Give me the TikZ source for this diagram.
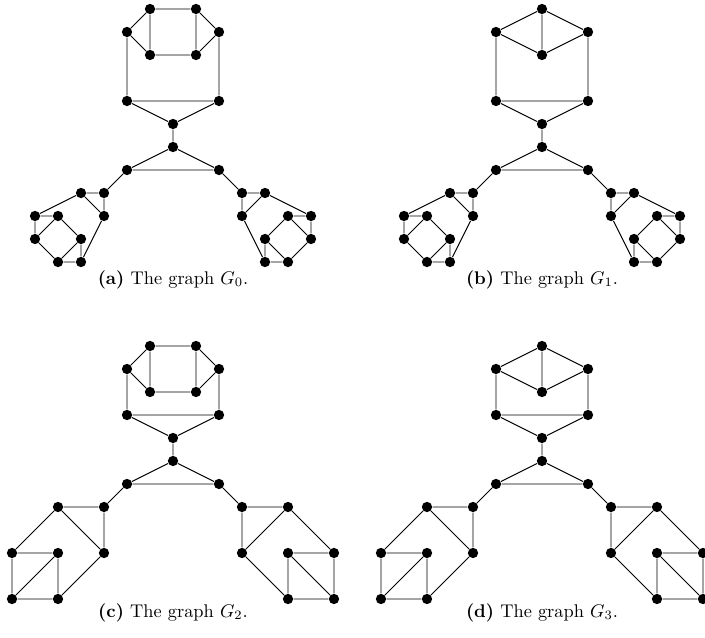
\documentclass[tikz,border=0pt]{standalone}
\usepackage{amsmath}
\usepackage{amssymb}
\usepackage{tikz}

\tikzset{
  vtx/.style={circle, fill=black, inner sep=0pt, minimum size=5.6pt},
  gline/.style={line width=0.5pt}
}

% top part of G0 and G2
\newcommand{\topoct}[1]{
  \node[vtx] (#1a1) at (-1,0) {};
  \node[vtx] (#1a2) at (1,0) {};
  \node[vtx] (#1b1) at (-2,-1) {};
  \node[vtx] (#1b2) at (2,-1) {};
  \node[vtx] (#1c1) at (-1,-2) {};
  \node[vtx] (#1c2) at (1,-2) {};
  \draw[gline] (#1a1) -- (#1a2) (#1c1) -- (#1c2) (#1a1) -- (#1c1) (#1a2) -- (#1c2)
    (#1b1) -- (#1a1) (#1b1) -- (#1c1) (#1b2) -- (#1a2) (#1b2) -- (#1c2);
}
% top part of G1 and G3
\newcommand{\tophex}[1]{
  \node[vtx] (#1a1) at (0,0) {};
  \node[vtx] (#1b1) at (-2,-1) {};
  \node[vtx] (#1b2) at (2,-1) {};
  \node[vtx] (#1c1) at (0,-2) {};
  \draw[gline] (#1a1) -- (#1b1) -- (#1c1) -- (#1b2) -- (#1a1) -- (#1c1);
}
% middle part, #2 = row of the lower pair
\newcommand{\spine}[2]{
  \node[vtx] (#1d1) at (-2,#2) {};
  \node[vtx] (#1d2) at (2,#2) {};
  \node[vtx] (#1e) at (0,#2-1) {};
  \node[vtx] (#1f) at (0,#2-2) {};
  \node[vtx] (#1g1) at (-2,#2-3) {};
  \node[vtx] (#1g2) at (2,#2-3) {};
  \draw[gline] (#1b1) -- (#1d1) -- (#1d2) -- (#1b2) (#1d1) -- (#1e) -- (#1d2)
    (#1e) -- (#1f) -- (#1g1) -- (#1g2) -- (#1f);
}
% small end gadget of G0 and G1
\newcommand{\cupsmall}[2]{
  \node[vtx] (#1p) at (-2,-1) {};
  \node[vtx] (#1q) at (-1,-1) {};
  \node[vtx] (#1r) at (-4,-2) {};
  \node[vtx] (#1s) at (-3,-2) {};
  \node[vtx] (#1t) at (-1,-2) {};
  \node[vtx] (#1u) at (-4,-3) {};
  \node[vtx] (#1v) at (-2,-3) {};
  \node[vtx] (#1w) at (-3,-4) {};
  \node[vtx] (#1x) at (-2,-4) {};
  \draw[gline] (#2) -- (#1q) -- (#1p) -- (#1r) (#1p) -- (#1t) -- (#1q)
    (#1r) -- (#1s) -- (#1u) -- (#1r) (#1s) -- (#1v) -- (#1w) -- (#1u)
    (#1v) -- (#1x) -- (#1w) (#1t) -- (#1x);
}
% large end gadget of G2 and G3
\newcommand{\cupbig}[2]{
  \node[vtx] (#1p) at (-3,-1) {};
  \node[vtx] (#1q) at (-1,-1) {};
  \node[vtx] (#1r) at (-5,-3) {};
  \node[vtx] (#1s) at (-3,-3) {};
  \node[vtx] (#1t) at (-1,-3) {};
  \node[vtx] (#1u) at (-5,-5) {};
  \node[vtx] (#1v) at (-3,-5) {};
  \draw[gline] (#2) -- (#1q) -- (#1p) -- (#1r) (#1p) -- (#1t) -- (#1q)
    (#1r) -- (#1s) -- (#1u) -- (#1r) (#1s) -- (#1v) -- (#1u) (#1t) -- (#1v);
}

\begin{document}
\begin{tikzpicture}[x=0.44cm, y=0.44cm]
  \useasboundingbox (0,0) rectangle (30.652,-27.696);

  % graph G0
  \begin{scope}[shift={(7.522,-0.391)}]
    \topoct{a}
    \spine{a}{-4}
  \end{scope}
  \begin{scope}[shift={(ag1)}]
    \cupsmall{aL}{ag1}
  \end{scope}
  \begin{scope}[shift={(ag2)}, xscale=-1]
    \cupsmall{aR}{ag2}
  \end{scope}
  \node[anchor=base] (capa) at (7.522,-12.35) {\textbf{(a)} The graph $G_0$.};

  % graph G1
  \begin{scope}[shift={(23.565,-0.391)}]
    \tophex{b}
    \spine{b}{-4}
  \end{scope}
  \begin{scope}[shift={(bg1)}]
    \cupsmall{bL}{bg1}
  \end{scope}
  \begin{scope}[shift={(bg2)}, xscale=-1]
    \cupsmall{bR}{bg2}
  \end{scope}
  \node[anchor=base] (capb) at (23.565,-12.35) {\textbf{(b)} The graph $G_1$.};

  % graph G2
  \begin{scope}[shift={(7.522,-15.043)}]
    \topoct{c}
    \spine{c}{-3}
  \end{scope}
  \begin{scope}[shift={(cg1)}]
    \cupbig{cL}{cg1}
  \end{scope}
  \begin{scope}[shift={(cg2)}, xscale=-1]
    \cupbig{cR}{cg2}
  \end{scope}
  \node[anchor=base] (capc) at (7.522,-26.83) {\textbf{(c)} The graph $G_2$.};

  % graph G3
  \begin{scope}[shift={(23.565,-15.043)}]
    \tophex{d}
    \spine{d}{-3}
  \end{scope}
  \begin{scope}[shift={(dg1)}]
    \cupbig{dL}{dg1}
  \end{scope}
  \begin{scope}[shift={(dg2)}, xscale=-1]
    \cupbig{dR}{dg2}
  \end{scope}
  \node[anchor=base] (capd) at (23.565,-26.83) {\textbf{(d)} The graph $G_3$.};
\end{tikzpicture}
\end{document}
